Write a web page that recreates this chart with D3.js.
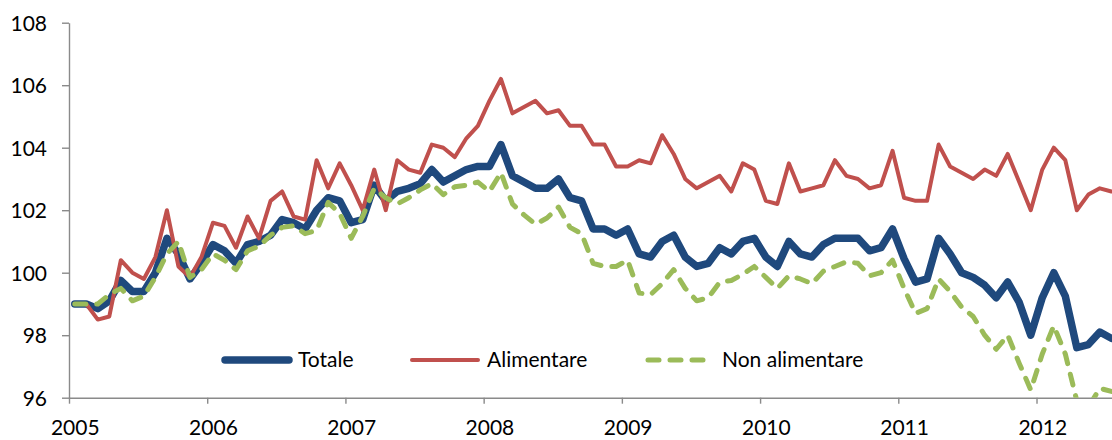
<!DOCTYPE html>
<html>
<head>
<meta charset="utf-8">
<script src="https://cdn.jsdelivr.net/npm/d3@7"></script>
<style>
  body { margin: 0; background: #fff; }
  text { font-family: Lato, "Open Sans", sans-serif; fill: #000; }
</style>
</head>
<body>
<div id="main"></div>
<script>

// monthly index numbers, Jan 2005 .. Jul 2012
var years = [2005, 2006, 2007, 2008, 2009, 2010, 2011, 2012];
var yTicks = [96, 98, 100, 102, 104, 106, 108];

var totale = [
  99.0, 99.0, 98.85, 99.1, 99.75, 99.4, 99.4, 100.0, 101.1, 100.6, 99.8, 100.3,
  100.9, 100.7, 100.3, 100.9, 101.0, 101.2, 101.7, 101.6, 101.4, 102.0, 102.4, 102.3,
  101.6, 101.7, 102.8, 102.3, 102.6, 102.7, 102.85, 103.3, 102.9, 103.1, 103.3, 103.4,
  103.4, 104.1, 103.1, 102.9, 102.7, 102.7, 103.0, 102.4, 102.3, 101.4, 101.4, 101.2,
  101.4, 100.6, 100.5, 101.0, 101.2, 100.5, 100.2, 100.3, 100.8, 100.6, 101.0, 101.1,
  100.5, 100.2, 101.0, 100.6, 100.5, 100.9, 101.1, 101.1, 101.1, 100.7, 100.8, 101.4,
  100.45, 99.7, 99.8, 101.1, 100.6, 100.0, 99.85, 99.6, 99.2, 99.7, 99.05, 98.0,
  99.2, 100.0, 99.25, 97.6, 97.7, 98.1, 97.9
];

var alimentare = [
  99.0, 99.0, 98.5, 98.6, 100.4, 100.0, 99.8, 100.5, 102.0, 100.2, 99.85, 100.5,
  101.6, 101.5, 100.8, 101.8, 101.1, 102.3, 102.6, 101.8, 101.7, 103.6, 102.7, 103.5,
  102.8, 102.0, 103.3, 102.0, 103.6, 103.3, 103.2, 104.1, 104.0, 103.7, 104.3, 104.7,
  105.5, 106.2, 105.1, 105.3, 105.5, 105.1, 105.2, 104.7, 104.7, 104.1, 104.1, 103.4,
  103.4, 103.6, 103.5, 104.4, 103.8, 103.0, 102.7, 102.9, 103.1, 102.6, 103.5, 103.3,
  102.3, 102.2, 103.5, 102.6, 102.7, 102.8, 103.6, 103.1, 103.0, 102.7, 102.8, 103.9,
  102.4, 102.3, 102.3, 104.1, 103.4, 103.2, 103.0, 103.3, 103.1, 103.8, 102.9, 102.0,
  103.3, 104.0, 103.6, 102.0, 102.5, 102.7, 102.6
];

var nonAlimentare = [
  99.0, 99.0, 99.0, 99.3, 99.5, 99.1, 99.25, 99.85, 100.6, 101.0, 99.85, 100.1,
  100.6, 100.4, 100.1, 100.7, 100.85, 101.2, 101.45, 101.5, 101.25, 101.35, 102.25, 101.9,
  101.1, 101.8, 102.7, 102.4, 102.2, 102.4, 102.65, 102.85, 102.5, 102.75, 102.8, 102.9,
  102.6, 103.2, 102.2, 101.85, 101.55, 101.75, 102.1, 101.45, 101.25, 100.3, 100.2, 100.2,
  100.4, 99.35, 99.3, 99.65, 100.1, 99.5, 99.1, 99.2, 99.7, 99.75, 99.95, 100.2,
  99.85, 99.5, 99.9, 99.8, 99.65, 100.05, 100.2, 100.35, 100.3, 99.9, 100.0, 100.4,
  99.5, 98.7, 98.85, 99.8, 99.4, 98.9, 98.6, 98.0, 97.55, 98.0, 97.1, 96.25,
  97.4, 98.3, 97.4, 95.9, 95.7, 96.3, 96.2
];

var seriesNames = ["Totale", "Alimentare", "Non alimentare"];
var seriesColors = ["#1F497D", "#C0504D", "#9BBB59"];

var w = 1112;
var h = 440;

// plot area edges
var plotLeft = 69, plotTop = 22.7, plotBottom = 397.7;
var monthW = 11.518;

var x = d3.scaleLinear().domain([0, 91]).range([plotLeft, plotLeft + 91 * monthW]);
var y = d3.scaleLinear().domain([96, 108]).range([plotBottom, plotTop]);

var svg = d3.select("#main").append("svg")
    .attr("width", w)
    .attr("height", h);

svg.append("clipPath").attr("id", "plot")
  .append("rect")
    .attr("x", plotLeft).attr("y", plotTop)
    .attr("width", w - plotLeft).attr("height", plotBottom - plotTop);

// y axis
var yAxis = svg.append("g")
    .attr("transform", "translate(" + plotLeft + ",0)")
    .call(d3.axisLeft(y).tickValues(yTicks).tickSize(7).tickSizeOuter(0).tickPadding(15));
yAxis.selectAll("text").style("font-size", "21px").attr("dy", "0.36em");

// x axis: ticks at year boundaries, labels on January
var xAxis = svg.append("g")
    .attr("transform", "translate(0," + plotBottom + ")")
    .call(d3.axisBottom(x).tickValues(years.map(function(d, i) { return i * 12; }))
      .tickSize(6).tickSizeOuter(0).tickFormat(function(d, i) { return years[i]; }));
xAxis.selectAll("text")
    .style("font-size", "21px")
    .attr("x", monthW / 2)
    .attr("y", 31)
    .attr("dy", "0.32em");

svg.selectAll(".domain, .tick line")
    .attr("stroke", "#8a8a8a")
    .attr("stroke-width", 1.4);
svg.selectAll(".tick text").attr("fill", "#000");

var line = d3.line()
    .x(function(d, i) { return x(i + 0.5); })
    .y(function(d) { return y(d); });

var styles = [
  { width: 7.5, dash: null },
  { width: 4, dash: null },
  { width: 5, dash: "11,11" }
];

var lines = svg.append("g").attr("clip-path", "url(#plot)");
[totale, alimentare, nonAlimentare].forEach(function(s, k) {
  lines.append("path")
      .datum(s)
      .attr("d", line)
      .attr("fill", "none")
      .attr("stroke", seriesColors[k])
      .attr("stroke-width", styles[k].width)
      .attr("stroke-linejoin", "round")
      .attr("stroke-linecap", "round")
      .attr("stroke-dasharray", styles[k].dash);
});

// legend
var legendX = [225, 412, 648];
var legendY = 360;
var leg = svg.selectAll(".leg")
    .data(seriesNames)
    .enter().append("g")
    .attr("class", "leg")
    .attr("transform", function(d, i) { return "translate(" + legendX[i] + "," + legendY + ")"; });

leg.append("line")
    .attr("x1", 0)
    .attr("x2", function(d, i) { return i == 2 ? 57 : (i == 0 ? 64 : 66); })
    .attr("stroke", function(d, i) { return seriesColors[i]; })
    .attr("stroke-width", function(d, i) { return styles[i].width; })
    .attr("stroke-linecap", "round")
    .attr("stroke-dasharray", function(d, i) { return styles[i].dash; });

leg.append("text")
    .attr("x", function(d, i) { return [73, 75, 74][i]; })
    .attr("y", 7)
    .style("font-size", "21px")
    .text(function(d) { return d; });

</script>
</body>
</html>
